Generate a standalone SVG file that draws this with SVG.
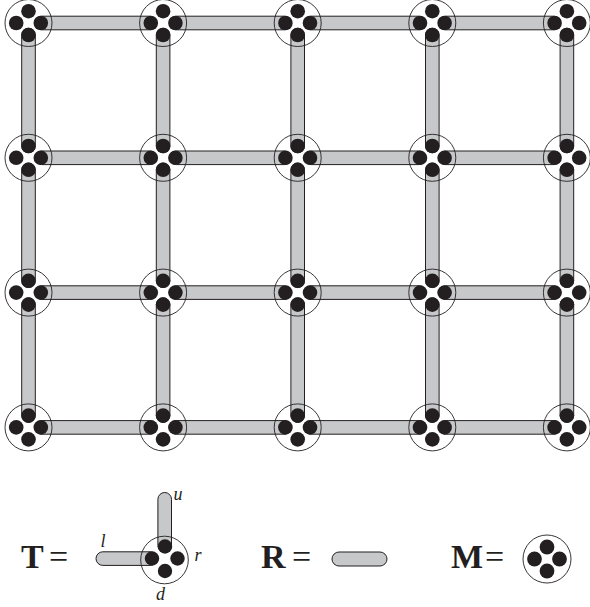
<svg xmlns="http://www.w3.org/2000/svg" xmlns:xlink="http://www.w3.org/1999/xlink" width="590" height="607" viewBox="0 0 590 607">
<style>
.bar{fill:#c7c8ca;stroke:#231f20;stroke-width:1}
.ring{fill:none;stroke:#231f20;stroke-width:0.9}
.dot{fill:#231f20}
.big{font-family:"Liberation Serif","Times New Roman",serif;font-size:34px;fill:#231f20}
.b{font-weight:bold}
.lab{font-family:"Liberation Serif","Times New Roman",serif;font-style:italic;font-size:18px;fill:#231f20}
</style>
<defs>
<g id="node">
<circle class="ring" cx="0" cy="0" r="23.5"/>
<circle class="dot" cx="0" cy="-11.8" r="7.3"/>
<circle class="dot" cx="-12.3" cy="0" r="7.3"/>
<circle class="dot" cx="12.3" cy="0" r="7.3"/>
<circle class="dot" cx="0" cy="12" r="7.3"/>
</g>
</defs>
<g id="connectors">
<rect class="bar" x="35" y="16.2" width="121.6" height="13.6" rx="6.8"/>
<rect class="bar" x="169.6" y="16.2" width="121.6" height="13.6" rx="6.8"/>
<rect class="bar" x="304.2" y="16.2" width="121.6" height="13.6" rx="6.8"/>
<rect class="bar" x="438.8" y="16.2" width="121.6" height="13.6" rx="6.8"/>
<rect class="bar" x="35" y="151" width="121.6" height="13.6" rx="6.8"/>
<rect class="bar" x="169.6" y="151" width="121.6" height="13.6" rx="6.8"/>
<rect class="bar" x="304.2" y="151" width="121.6" height="13.6" rx="6.8"/>
<rect class="bar" x="438.8" y="151" width="121.6" height="13.6" rx="6.8"/>
<rect class="bar" x="35" y="285.8" width="121.6" height="13.6" rx="6.8"/>
<rect class="bar" x="169.6" y="285.8" width="121.6" height="13.6" rx="6.8"/>
<rect class="bar" x="304.2" y="285.8" width="121.6" height="13.6" rx="6.8"/>
<rect class="bar" x="438.8" y="285.8" width="121.6" height="13.6" rx="6.8"/>
<rect class="bar" x="35" y="420.6" width="121.6" height="13.6" rx="6.8"/>
<rect class="bar" x="169.6" y="420.6" width="121.6" height="13.6" rx="6.8"/>
<rect class="bar" x="304.2" y="420.6" width="121.6" height="13.6" rx="6.8"/>
<rect class="bar" x="438.8" y="420.6" width="121.6" height="13.6" rx="6.8"/>
<rect class="bar" x="21.7" y="28.2" width="13.6" height="124.6" rx="6.8"/>
<rect class="bar" x="21.7" y="163" width="13.6" height="124.6" rx="6.8"/>
<rect class="bar" x="21.7" y="297.8" width="13.6" height="124.6" rx="6.8"/>
<rect class="bar" x="156.3" y="28.2" width="13.6" height="124.6" rx="6.8"/>
<rect class="bar" x="156.3" y="163" width="13.6" height="124.6" rx="6.8"/>
<rect class="bar" x="156.3" y="297.8" width="13.6" height="124.6" rx="6.8"/>
<rect class="bar" x="290.9" y="28.2" width="13.6" height="124.6" rx="6.8"/>
<rect class="bar" x="290.9" y="163" width="13.6" height="124.6" rx="6.8"/>
<rect class="bar" x="290.9" y="297.8" width="13.6" height="124.6" rx="6.8"/>
<rect class="bar" x="425.5" y="28.2" width="13.6" height="124.6" rx="6.8"/>
<rect class="bar" x="425.5" y="163" width="13.6" height="124.6" rx="6.8"/>
<rect class="bar" x="425.5" y="297.8" width="13.6" height="124.6" rx="6.8"/>
<rect class="bar" x="560.1" y="28.2" width="13.6" height="124.6" rx="6.8"/>
<rect class="bar" x="560.1" y="163" width="13.6" height="124.6" rx="6.8"/>
<rect class="bar" x="560.1" y="297.8" width="13.6" height="124.6" rx="6.8"/>
</g>
<g id="n00"><use xlink:href="#node" href="#node" x="28.5" y="23"/></g>
<g id="n01"><use xlink:href="#node" href="#node" x="163.1" y="23"/></g>
<g id="n02"><use xlink:href="#node" href="#node" x="297.7" y="23"/></g>
<g id="n03"><use xlink:href="#node" href="#node" x="432.3" y="23"/></g>
<g id="n04"><use xlink:href="#node" href="#node" x="566.9" y="23"/></g>
<g id="n10"><use xlink:href="#node" href="#node" x="28.5" y="157.8"/></g>
<g id="n11"><use xlink:href="#node" href="#node" x="163.1" y="157.8"/></g>
<g id="n12"><use xlink:href="#node" href="#node" x="297.7" y="157.8"/></g>
<g id="n13"><use xlink:href="#node" href="#node" x="432.3" y="157.8"/></g>
<g id="n14"><use xlink:href="#node" href="#node" x="566.9" y="157.8"/></g>
<g id="n20"><use xlink:href="#node" href="#node" x="28.5" y="292.6"/></g>
<g id="n21"><use xlink:href="#node" href="#node" x="163.1" y="292.6"/></g>
<g id="n22"><use xlink:href="#node" href="#node" x="297.7" y="292.6"/></g>
<g id="n23"><use xlink:href="#node" href="#node" x="432.3" y="292.6"/></g>
<g id="n24"><use xlink:href="#node" href="#node" x="566.9" y="292.6"/></g>
<g id="n30"><use xlink:href="#node" href="#node" x="28.5" y="427.4"/></g>
<g id="n31"><use xlink:href="#node" href="#node" x="163.1" y="427.4"/></g>
<g id="n32"><use xlink:href="#node" href="#node" x="297.7" y="427.4"/></g>
<g id="n33"><use xlink:href="#node" href="#node" x="432.3" y="427.4"/></g>
<g id="n34"><use xlink:href="#node" href="#node" x="566.9" y="427.4"/></g>
<g id="legend-T">
<text class="big b" x="21" y="568">T</text>
<text class="big" x="49" y="568">=</text>
<rect class="bar" x="157.9" y="492.5" width="13.6" height="60" rx="6.8"/>
<rect class="bar" x="96" y="551.8" width="61" height="13.6" rx="6.8"/>
<circle class="ring" cx="164.5" cy="560" r="23.8"/>
<circle class="dot" cx="165" cy="546.5" r="7.2"/>
<circle class="dot" cx="152" cy="558.5" r="7.2"/>
<circle class="dot" cx="177.5" cy="558.5" r="7.2"/>
<circle class="dot" cx="165" cy="571" r="7.2"/>
<text class="lab" x="173.5" y="500">u</text>
<text class="lab" x="100.5" y="546.5">l</text>
<text class="lab" x="194.5" y="561">r</text>
<text class="lab" x="156" y="600">d</text>
</g>
<g id="legend-R">
<text class="big b" x="261" y="568">R</text>
<text class="big" x="292" y="568">=</text>
<rect class="bar" x="332" y="552" width="55" height="14" rx="7"/>
</g>
<g id="legend-M">
<text class="big b" x="451" y="568">M</text>
<text class="big" x="485" y="568">=</text>
<g transform="translate(547,559)">
<circle class="ring" cx="0" cy="0" r="24"/>
<circle class="dot" cx="0" cy="-12" r="7.4"/>
<circle class="dot" cx="-12.5" cy="0" r="7.4"/>
<circle class="dot" cx="12.5" cy="0" r="7.4"/>
<circle class="dot" cx="0" cy="12" r="7.4"/>
</g>
</g>
</svg>
